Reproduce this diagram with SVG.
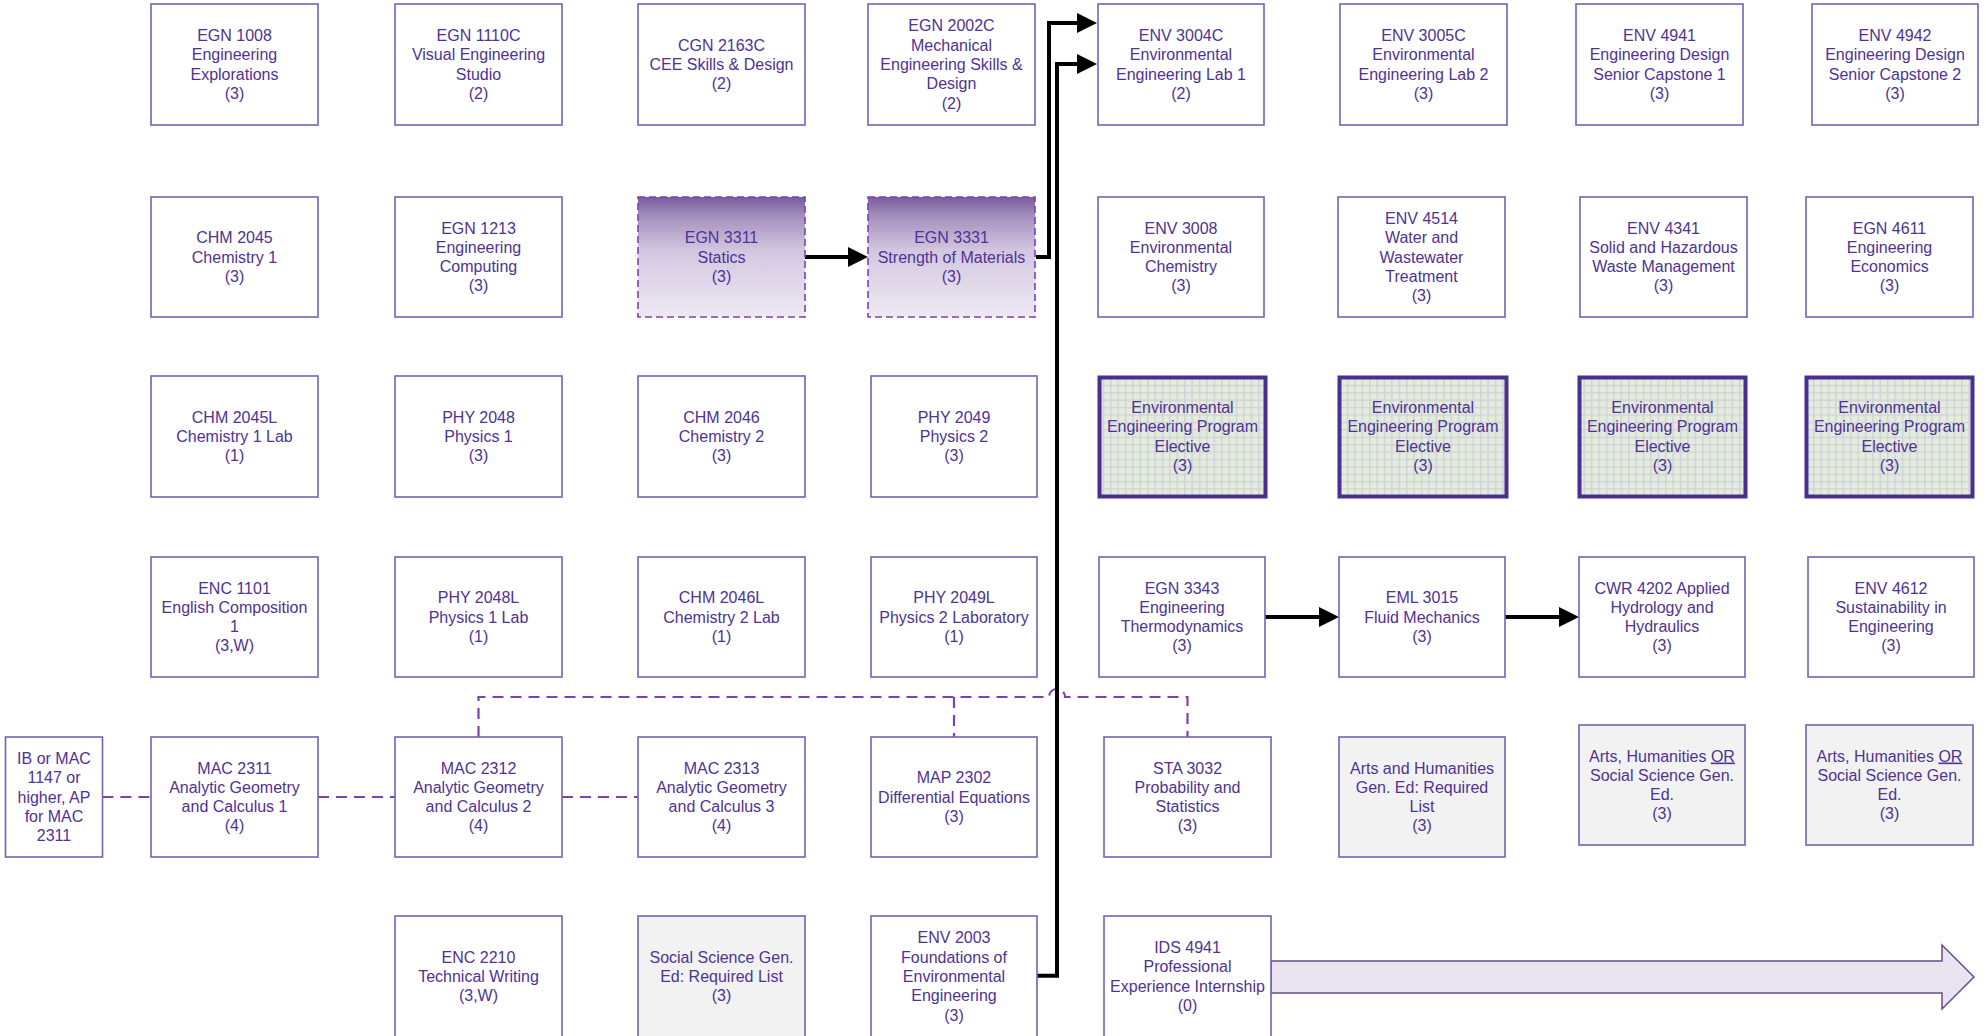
<svg xmlns="http://www.w3.org/2000/svg" width="1986" height="1036" viewBox="0 0 1986 1036">
<style>
.box{fill:#fff;stroke:#7462BA;stroke-width:1.6}
.gray{fill:#F2F2F2;stroke:#7462BA;stroke-width:1.6}
.grad{fill:url(#pg);stroke:#7F3FB5;stroke-width:1.6;stroke-dasharray:7 4}
.elec{fill:url(#grid);stroke:#4A2E90;stroke-width:4}
text{font-family:"Liberation Sans",Arial,sans-serif;font-size:16px;fill:#4F3296;text-anchor:middle}
.blk{fill:none;stroke:#000;stroke-width:4;stroke-linejoin:miter}
.dash{fill:none;stroke:#7F3FB5;stroke-width:2.2;stroke-dasharray:11 7}
</style>
<defs>
<linearGradient id="pg" x1="0" y1="0" x2="0" y2="1">
<stop offset="0" stop-color="#785C9E"/>
<stop offset="0.15" stop-color="#A28DBC"/>
<stop offset="0.45" stop-color="#D3C7E0"/>
<stop offset="1" stop-color="#EEE9F4"/>
</linearGradient>
<pattern id="grid" patternUnits="userSpaceOnUse" width="7.4" height="7.4">
<rect width="7.4" height="7.4" fill="#E3EEDA"/>
<path d="M0 0.7H7.4M0.7 0V7.4" stroke="#D2D0DC" stroke-width="1.4"/>
</pattern>
<marker id="ah" markerUnits="userSpaceOnUse" markerWidth="21" markerHeight="21" refX="0" refY="10" orient="auto">
<path d="M0 0L20 10L0 20Z" fill="#000"/>
</marker>
</defs>

<g id="connectors">
<path class="dash" d="M102.4 797H151M318 797H395M562 797H638"/>
<path class="dash" d="M478.5 737V697H1049A8 8 0 0 1 1065 697H1187.5V737M954 697V737"/>
<path class="blk" d="M805 257H848" marker-end="url(#ah)"/>
<path class="blk" d="M1036 257H1049V23H1077" marker-end="url(#ah)"/>
<path class="blk" d="M1037 975.7H1057V64H1077" marker-end="url(#ah)"/>
<path class="blk" d="M1265 617H1319" marker-end="url(#ah)"/>
<path class="blk" d="M1505 617H1559" marker-end="url(#ah)"/>
<path d="M1271 961H1942V945L1974 977L1942 1009V993H1271Z" fill="#EAE3F0" stroke="#6A4C8E" stroke-width="1.5"/>
</g>

<g id="n_egn1008"><rect class="box" x="151" y="4" width="167" height="121"/><text x="234.5" y="41.05">EGN 1008<tspan x="234.5" dy="19.3">Engineering</tspan><tspan x="234.5" dy="19.3">Explorations</tspan><tspan x="234.5" dy="19.3">(3)</tspan></text></g>
<g id="n_egn1110c"><rect class="box" x="395" y="4" width="167" height="121"/><text x="478.5" y="41.05">EGN 1110C<tspan x="478.5" dy="19.3">Visual Engineering</tspan><tspan x="478.5" dy="19.3">Studio</tspan><tspan x="478.5" dy="19.3">(2)</tspan></text></g>
<g id="n_cgn2163c"><rect class="box" x="638" y="4" width="167" height="121"/><text x="721.5" y="50.7">CGN 2163C<tspan x="721.5" dy="19.3">CEE Skills &amp; Design</tspan><tspan x="721.5" dy="19.3">(2)</tspan></text></g>
<g id="n_egn2002c"><rect class="box" x="868" y="4" width="167" height="121"/><text x="951.5" y="31.4">EGN 2002C<tspan x="951.5" dy="19.3">Mechanical</tspan><tspan x="951.5" dy="19.3">Engineering Skills &amp;</tspan><tspan x="951.5" dy="19.3">Design</tspan><tspan x="951.5" dy="19.3">(2)</tspan></text></g>
<g id="n_env3004c"><rect class="box" x="1098" y="4" width="166" height="121"/><text x="1181" y="41.05">ENV 3004C<tspan x="1181" dy="19.3">Environmental</tspan><tspan x="1181" dy="19.3">Engineering Lab 1</tspan><tspan x="1181" dy="19.3">(2)</tspan></text></g>
<g id="n_env3005c"><rect class="box" x="1340" y="4" width="167" height="121"/><text x="1423.5" y="41.05">ENV 3005C<tspan x="1423.5" dy="19.3">Environmental</tspan><tspan x="1423.5" dy="19.3">Engineering Lab 2</tspan><tspan x="1423.5" dy="19.3">(3)</tspan></text></g>
<g id="n_env4941"><rect class="box" x="1576" y="4" width="167" height="121"/><text x="1659.5" y="41.05">ENV 4941<tspan x="1659.5" dy="19.3">Engineering Design</tspan><tspan x="1659.5" dy="19.3">Senior Capstone 1</tspan><tspan x="1659.5" dy="19.3">(3)</tspan></text></g>
<g id="n_env4942"><rect class="box" x="1812" y="4" width="166" height="121"/><text x="1895" y="41.05">ENV 4942<tspan x="1895" dy="19.3">Engineering Design</tspan><tspan x="1895" dy="19.3">Senior Capstone 2</tspan><tspan x="1895" dy="19.3">(3)</tspan></text></g>

<g id="n_chm2045"><rect class="box" x="151" y="197" width="167" height="120"/><text x="234.5" y="243.2">CHM 2045<tspan x="234.5" dy="19.3">Chemistry 1</tspan><tspan x="234.5" dy="19.3">(3)</tspan></text></g>
<g id="n_egn1213"><rect class="box" x="395" y="197" width="167" height="120"/><text x="478.5" y="233.55">EGN 1213<tspan x="478.5" dy="19.3">Engineering</tspan><tspan x="478.5" dy="19.3">Computing</tspan><tspan x="478.5" dy="19.3">(3)</tspan></text></g>
<g id="n_egn3311"><rect class="grad" x="638" y="197" width="167" height="120"/><text x="721.5" y="243.2">EGN 3311<tspan x="721.5" dy="19.3">Statics</tspan><tspan x="721.5" dy="19.3">(3)</tspan></text></g>
<g id="n_egn3331"><rect class="grad" x="868" y="197" width="167" height="120"/><text x="951.5" y="243.2">EGN 3331<tspan x="951.5" dy="19.3">Strength of Materials</tspan><tspan x="951.5" dy="19.3">(3)</tspan></text></g>
<g id="n_env3008"><rect class="box" x="1098" y="197" width="166" height="120"/><text x="1181" y="233.55">ENV 3008<tspan x="1181" dy="19.3">Environmental</tspan><tspan x="1181" dy="19.3">Chemistry</tspan><tspan x="1181" dy="19.3">(3)</tspan></text></g>
<g id="n_env4514"><rect class="box" x="1338" y="197" width="167" height="120"/><text x="1421.5" y="223.9">ENV 4514<tspan x="1421.5" dy="19.3">Water and</tspan><tspan x="1421.5" dy="19.3">Wastewater</tspan><tspan x="1421.5" dy="19.3">Treatment</tspan><tspan x="1421.5" dy="19.3">(3)</tspan></text></g>
<g id="n_env4341"><rect class="box" x="1580" y="197" width="167" height="120"/><text x="1663.5" y="233.55">ENV 4341<tspan x="1663.5" dy="19.3">Solid and Hazardous</tspan><tspan x="1663.5" dy="19.3">Waste Management</tspan><tspan x="1663.5" dy="19.3">(3)</tspan></text></g>
<g id="n_egn4611"><rect class="box" x="1806" y="197" width="167" height="120"/><text x="1889.5" y="233.55">EGN 4611<tspan x="1889.5" dy="19.3">Engineering</tspan><tspan x="1889.5" dy="19.3">Economics</tspan><tspan x="1889.5" dy="19.3">(3)</tspan></text></g>

<g id="n_chm2045l"><rect class="box" x="151" y="376" width="167" height="121"/><text x="234.5" y="422.7">CHM 2045L<tspan x="234.5" dy="19.3">Chemistry 1 Lab</tspan><tspan x="234.5" dy="19.3">(1)</tspan></text></g>
<g id="n_phy2048"><rect class="box" x="395" y="376" width="167" height="121"/><text x="478.5" y="422.7">PHY 2048<tspan x="478.5" dy="19.3">Physics 1</tspan><tspan x="478.5" dy="19.3">(3)</tspan></text></g>
<g id="n_chm2046"><rect class="box" x="638" y="376" width="167" height="121"/><text x="721.5" y="422.7">CHM 2046<tspan x="721.5" dy="19.3">Chemistry 2</tspan><tspan x="721.5" dy="19.3">(3)</tspan></text></g>
<g id="n_phy2049"><rect class="box" x="871" y="376" width="166" height="121"/><text x="954" y="422.7">PHY 2049<tspan x="954" dy="19.3">Physics 2</tspan><tspan x="954" dy="19.3">(3)</tspan></text></g>
<g id="n_elective1"><rect class="elec" x="1099.5" y="377.5" width="166" height="119"/><text x="1182.5" y="413.05">Environmental<tspan x="1182.5" dy="19.3">Engineering Program</tspan><tspan x="1182.5" dy="19.3">Elective</tspan><tspan x="1182.5" dy="19.3">(3)</tspan></text></g>
<g id="n_elective2"><rect class="elec" x="1339.5" y="377.5" width="167" height="119"/><text x="1423" y="413.05">Environmental<tspan x="1423" dy="19.3">Engineering Program</tspan><tspan x="1423" dy="19.3">Elective</tspan><tspan x="1423" dy="19.3">(3)</tspan></text></g>
<g id="n_elective3"><rect class="elec" x="1579.5" y="377.5" width="166" height="119"/><text x="1662.5" y="413.05">Environmental<tspan x="1662.5" dy="19.3">Engineering Program</tspan><tspan x="1662.5" dy="19.3">Elective</tspan><tspan x="1662.5" dy="19.3">(3)</tspan></text></g>
<g id="n_elective4"><rect class="elec" x="1806.5" y="377.5" width="166" height="119"/><text x="1889.5" y="413.05">Environmental<tspan x="1889.5" dy="19.3">Engineering Program</tspan><tspan x="1889.5" dy="19.3">Elective</tspan><tspan x="1889.5" dy="19.3">(3)</tspan></text></g>

<g id="n_enc1101"><rect class="box" x="151" y="557" width="167" height="120"/><text x="234.5" y="593.55">ENC 1101<tspan x="234.5" dy="19.3">English Composition</tspan><tspan x="234.5" dy="19.3">1</tspan><tspan x="234.5" dy="19.3">(3,W)</tspan></text></g>
<g id="n_phy2048l"><rect class="box" x="395" y="557" width="167" height="120"/><text x="478.5" y="603.2">PHY 2048L<tspan x="478.5" dy="19.3">Physics 1 Lab</tspan><tspan x="478.5" dy="19.3">(1)</tspan></text></g>
<g id="n_chm2046l"><rect class="box" x="638" y="557" width="167" height="120"/><text x="721.5" y="603.2">CHM 2046L<tspan x="721.5" dy="19.3">Chemistry 2 Lab</tspan><tspan x="721.5" dy="19.3">(1)</tspan></text></g>
<g id="n_phy2049l"><rect class="box" x="871" y="557" width="166" height="120"/><text x="954" y="603.2">PHY 2049L<tspan x="954" dy="19.3">Physics 2 Laboratory</tspan><tspan x="954" dy="19.3">(1)</tspan></text></g>
<g id="n_egn3343"><rect class="box" x="1099" y="557" width="166" height="120"/><text x="1182" y="593.55">EGN 3343<tspan x="1182" dy="19.3">Engineering</tspan><tspan x="1182" dy="19.3">Thermodynamics</tspan><tspan x="1182" dy="19.3">(3)</tspan></text></g>
<g id="n_eml3015"><rect class="box" x="1339" y="557" width="166" height="120"/><text x="1422" y="603.2">EML 3015<tspan x="1422" dy="19.3">Fluid Mechanics</tspan><tspan x="1422" dy="19.3">(3)</tspan></text></g>
<g id="n_cwr4202"><rect class="box" x="1579" y="557" width="166" height="120"/><text x="1662" y="593.55">CWR 4202 Applied<tspan x="1662" dy="19.3">Hydrology and</tspan><tspan x="1662" dy="19.3">Hydraulics</tspan><tspan x="1662" dy="19.3">(3)</tspan></text></g>
<g id="n_env4612"><rect class="box" x="1808" y="557" width="166" height="120"/><text x="1891" y="593.55">ENV 4612<tspan x="1891" dy="19.3">Sustainability in</tspan><tspan x="1891" dy="19.3">Engineering</tspan><tspan x="1891" dy="19.3">(3)</tspan></text></g>

<g id="n_ib"><rect class="box" x="5.5" y="737" width="97" height="120"/><text x="54" y="763.9">IB or MAC<tspan x="54" dy="19.3">1147 or</tspan><tspan x="54" dy="19.3">higher, AP</tspan><tspan x="54" dy="19.3">for MAC</tspan><tspan x="54" dy="19.3">2311</tspan></text></g>
<g id="n_mac2311"><rect class="box" x="151" y="737" width="167" height="120"/><text x="234.5" y="773.55">MAC 2311<tspan x="234.5" dy="19.3">Analytic Geometry</tspan><tspan x="234.5" dy="19.3">and Calculus 1</tspan><tspan x="234.5" dy="19.3">(4)</tspan></text></g>
<g id="n_mac2312"><rect class="box" x="395" y="737" width="167" height="120"/><text x="478.5" y="773.55">MAC 2312<tspan x="478.5" dy="19.3">Analytic Geometry</tspan><tspan x="478.5" dy="19.3">and Calculus 2</tspan><tspan x="478.5" dy="19.3">(4)</tspan></text></g>
<g id="n_mac2313"><rect class="box" x="638" y="737" width="167" height="120"/><text x="721.5" y="773.55">MAC 2313<tspan x="721.5" dy="19.3">Analytic Geometry</tspan><tspan x="721.5" dy="19.3">and Calculus 3</tspan><tspan x="721.5" dy="19.3">(4)</tspan></text></g>
<g id="n_map2302"><rect class="box" x="871" y="737" width="166" height="120"/><text x="954" y="783.2">MAP 2302<tspan x="954" dy="19.3">Differential Equations</tspan><tspan x="954" dy="19.3">(3)</tspan></text></g>
<g id="n_sta3032"><rect class="box" x="1104" y="737" width="167" height="120"/><text x="1187.5" y="773.55">STA 3032<tspan x="1187.5" dy="19.3">Probability and</tspan><tspan x="1187.5" dy="19.3">Statistics</tspan><tspan x="1187.5" dy="19.3">(3)</tspan></text></g>
<g id="n_arts"><rect class="gray" x="1339" y="737" width="166" height="120"/><text x="1422" y="773.55">Arts and Humanities<tspan x="1422" dy="19.3">Gen. Ed: Required</tspan><tspan x="1422" dy="19.3">List</tspan><tspan x="1422" dy="19.3">(3)</tspan></text></g>
<g id="n_artsor1"><rect class="gray" x="1579" y="725" width="166" height="120"/><text x="1662" y="761.55">Arts, Humanities <tspan text-decoration="underline">OR</tspan><tspan x="1662" dy="19.3">Social Science Gen.</tspan><tspan x="1662" dy="19.3">Ed.</tspan><tspan x="1662" dy="19.3">(3)</tspan></text></g>
<g id="n_artsor2"><rect class="gray" x="1806" y="725" width="167" height="120"/><text x="1889.5" y="761.55">Arts, Humanities <tspan text-decoration="underline">OR</tspan><tspan x="1889.5" dy="19.3">Social Science Gen.</tspan><tspan x="1889.5" dy="19.3">Ed.</tspan><tspan x="1889.5" dy="19.3">(3)</tspan></text></g>

<g id="n_enc2210"><rect class="box" x="395" y="916" width="167" height="122"/><text x="478.5" y="962.7">ENC 2210<tspan x="478.5" dy="19.3">Technical Writing</tspan><tspan x="478.5" dy="19.3">(3,W)</tspan></text></g>
<g id="n_socsci"><rect class="gray" x="638" y="916" width="167" height="122"/><text x="721.5" y="962.7">Social Science Gen.<tspan x="721.5" dy="19.3">Ed: Required List</tspan><tspan x="721.5" dy="19.3">(3)</tspan></text></g>
<g id="n_env2003"><rect class="box" x="871" y="916" width="166" height="122"/><text x="954" y="943.4">ENV 2003<tspan x="954" dy="19.3">Foundations of</tspan><tspan x="954" dy="19.3">Environmental</tspan><tspan x="954" dy="19.3">Engineering</tspan><tspan x="954" dy="19.3">(3)</tspan></text></g>
<g id="n_ids4941"><rect class="box" x="1104" y="916" width="167" height="122"/><text x="1187.5" y="953.05">IDS 4941<tspan x="1187.5" dy="19.3">Professional</tspan><tspan x="1187.5" dy="19.3">Experience Internship</tspan><tspan x="1187.5" dy="19.3">(0)</tspan></text></g>
</svg>
